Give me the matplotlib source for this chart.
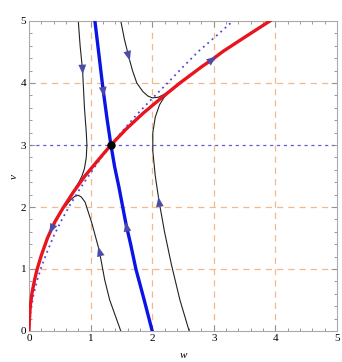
import numpy as np
import matplotlib.pyplot as plt

# curves, as (w, v) lists
red_w = [0.0, 0.005, 0.02, 0.05, 0.09, 0.13, 0.2, 0.3, 0.36, 0.42, 0.55, 0.72, 0.9, 1.1, 1.33, 1.58, 1.85, 2.15, 2.45, 2.8, 2.99, 3.15, 3.52, 3.91]
red_v = [0.0, 0.15, 0.4, 0.62, 0.82, 0.99, 1.22, 1.5, 1.63, 1.76, 1.98, 2.24, 2.49, 2.73, 3.0, 3.26, 3.51, 3.76, 4.0, 4.26, 4.39, 4.51, 4.75, 5.0]

dot_w = [0.0, 0.005, 0.02, 0.07, 0.13, 0.2, 0.3, 0.4, 0.53, 0.67, 0.83, 1.0, 1.16, 1.33, 1.53, 1.75, 2.0, 2.25, 2.5, 2.75, 3.03, 3.31]
dot_v = [0.0, 0.14, 0.28, 0.57, 0.81, 1.03, 1.29, 1.53, 1.79, 2.04, 2.3, 2.55, 2.78, 3.0, 3.24, 3.49, 3.75, 4.0, 4.26, 4.51, 4.75, 5.0]

null_w = [1.07, 1.13, 1.19, 1.21, 1.27, 1.33, 1.39, 1.46, 1.56, 1.58, 1.65, 1.735, 1.87, 2.0]
null_v = [5.0, 4.5, 4.0, 3.84, 3.4, 3.0, 2.65, 2.32, 1.8, 1.7, 1.4, 1.0, 0.5, 0.0]

t1_w = [0.80, 0.83, 0.87, 0.90, 0.93, 0.94, 0.93, 0.90, 0.86, 0.81, 0.76]
t1_v = [5.0, 4.6, 4.2, 3.6, 3.2, 3.0, 2.8, 2.62, 2.5, 2.4, 2.32]

t2_w = [1.49, 1.40, 1.31, 1.23, 1.14, 1.02, 0.91, 0.85, 0.80, 0.74, 0.67, 0.60]
t2_v = [0.0, 0.25, 0.5, 0.82, 1.3, 1.74, 2.08, 2.16, 2.19, 2.17, 2.11, 2.02]

t3_w = [1.49, 1.55, 1.62, 1.68, 1.75, 1.85, 1.93, 2.0, 2.1, 2.2, 2.32]
t3_v = [5.0, 4.7, 4.42, 4.2, 4.0, 3.86, 3.79, 3.76, 3.77, 3.82, 3.89]

t4_w = [2.6, 2.45, 2.31, 2.2, 2.11, 2.05, 2.01, 2.01, 2.05, 2.12, 2.2, 2.32]
t4_v = [0.0, 0.5, 1.08, 1.6, 2.1, 2.5, 2.9, 3.2, 3.45, 3.65, 3.78, 3.89]

fixed_pt = (1.33, 3.0)

orange = '#f5b88a'
arrow_col = '#4b4ba8'

fig = plt.figure(figsize=(3.42, 3.62), dpi=100)
ax = fig.add_axes([29 / 342, 1 - 331 / 362, 308 / 342, 310 / 362])

# grid
for g in [1, 2, 3, 4]:
    ax.axvline(g, color=orange, lw=0.9, ls=(0, (5, 4)), zorder=1)
for g in [1, 2, 4]:
    ax.axhline(g, color=orange, lw=0.9, ls=(0, (5, 4)), zorder=1)
ax.axhline(3, color='#5c5cd6', lw=0.9, ls=(0, (2.5, 3)), zorder=1)

# trajectories
for tw, tv in [(t1_w, t1_v), (t2_w, t2_v), (t3_w, t3_v), (t4_w, t4_v)]:
    ax.plot(tw, tv, color='#222222', lw=0.8, zorder=2)

ax.plot(dot_w, dot_v, color='#4848e0', lw=1.3, ls=(0, (1, 2.2)), zorder=3)
ax.plot(null_w, null_v, color='#0a14e6', lw=2.4, zorder=4)
ax.plot(red_w, red_v, color='#e8141e', lw=2.4, zorder=5)
ax.plot(*fixed_pt, 'o', color='black', ms=5, zorder=7)


def arrow(ws, vs, i, forward=True):
    # small arrow head on a curve at point i, pointing along it
    j = i + 1 if forward else i - 1
    x0, y0 = ws[i], vs[i]
    x1, y1 = ws[j], vs[j]
    d = np.hypot(x1 - x0, y1 - y0)
    tip = (x0 + (x1 - x0) * 0.06 / d, y0 + (y1 - y0) * 0.06 / d)
    ax.annotate('', xy=tip, xytext=(x0, y0),
                arrowprops=dict(arrowstyle='-|>,head_length=0.75,head_width=0.3',
                                color=arrow_col, lw=0.1, mutation_scale=9),
                zorder=8)


arrow(t1_w, t1_v, 2)
arrow(t3_w, t3_v, 2)
arrow(null_w, null_v, 3)
arrow(null_w, null_v, 9, forward=False)
arrow(t2_w, t2_v, 4)
arrow(t4_w, t4_v, 4)
arrow(red_w, red_v, 8, forward=False)
arrow(red_w, red_v, 20)

ax.set_xlim(0, 5)
ax.set_ylim(0, 5)
ax.set_xticks(range(6))
ax.set_yticks(range(6))
ax.set_xticks(np.arange(0, 5.01, 0.2), minor=True)
ax.set_yticks(np.arange(0, 5.01, 0.2), minor=True)
ax.tick_params(which='both', direction='in', top=True, right=True,
               color='#888888', width=0.6, labeltop=False, labelright=False)
ax.tick_params(which='major', length=4, labelsize=8, pad=2)
ax.tick_params(which='minor', length=2)
for lab in ax.get_xticklabels() + ax.get_yticklabels():
    lab.set_fontfamily('Liberation Serif')
for s in ax.spines.values():
    s.set_color('#aaaaaa')
    s.set_linewidth(0.8)

ax.set_xlabel('w', fontfamily='Liberation Serif', fontstyle='italic', fontsize=8, labelpad=6)
ax.set_ylabel('v', fontfamily='Liberation Serif', fontstyle='italic', fontsize=8, labelpad=1)

fig.savefig('out.png', dpi=100)
